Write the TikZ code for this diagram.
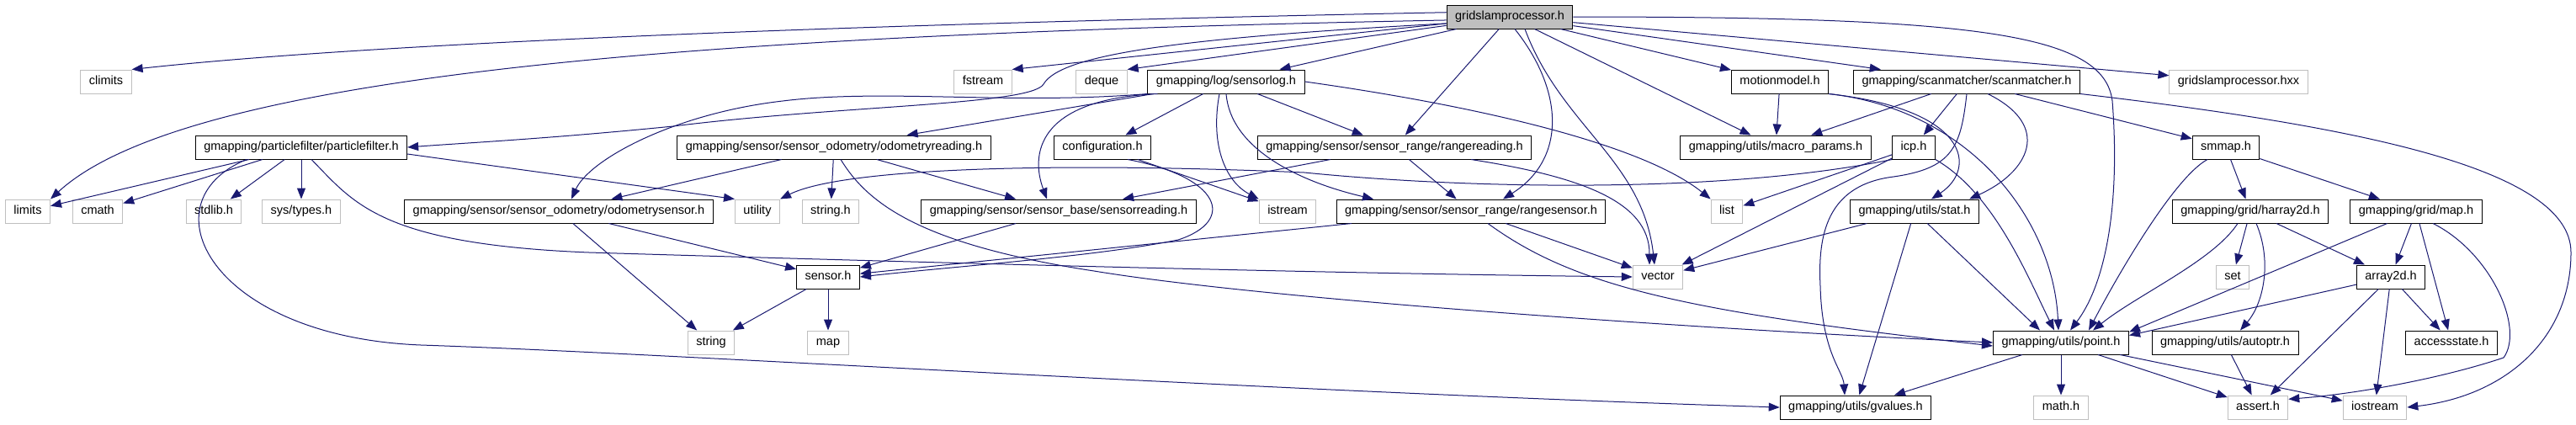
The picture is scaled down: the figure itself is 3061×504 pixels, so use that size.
\documentclass[tikz,border=0pt]{standalone}
\usepackage{fontspec}
\setmainfont{Liberation Sans}
\usetikzlibrary{arrows.meta}
\definecolor{edgeblue}{HTML}{191970}
\definecolor{boxgray}{HTML}{BFBFBF}
\tikzset{
  hdr/.style={draw=black, line width=1pt, fill=white, inner xsep=10pt, inner ysep=0pt,
    minimum height=28pt, text height=11pt, text depth=3.5pt, font=\fontsize{14.5}{17}\selectfont},
  syshdr/.style={hdr, draw=boxgray},
  roothdr/.style={hdr, fill=boxgray},
  dep/.style={draw=edgeblue, line width=1pt, -{Triangle[length=13pt, width=10pt]}}
}
\begin{document}
\begin{tikzpicture}[x=1pt, y=-1pt]
  \useasboundingbox (0,0) rectangle (3061,504);

  \node[roothdr] (root) at (1794,20) {gridslamprocessor.h};

  \node[syshdr] (climits) at (126,97) {climits};
  \node[syshdr] (fstream) at (1168,97) {fstream};
  \node[syshdr] (deque) at (1309,97) {deque};
  \node[hdr] (sensorlog) at (1457,97) {gmapping/log/sensorlog.h};
  \node[hdr] (motionmodel) at (2115,97) {motionmodel.h};
  \node[hdr] (scanmatcher) at (2337,97) {gmapping/scanmatcher/scanmatcher.h};
  \node[syshdr] (gsphxx) at (2660,97) {gridslamprocessor.hxx};

  \node[hdr] (particlefilter) at (358,175) {gmapping/particlefilter/particlefilter.h};
  \node[hdr] (odomreading) at (991,175) {gmapping/sensor/sensor\_odometry/odometryreading.h};
  \node[hdr] (configuration) at (1310,175) {configuration.h};
  \node[hdr] (rangereading) at (1657,175) {gmapping/sensor/sensor\_range/rangereading.h};
  \node[hdr] (macroparams) at (2110,175) {gmapping/utils/macro\_params.h};
  \node[hdr] (icp) at (2274,175) {icp.h};
  \node[hdr] (smmap) at (2645,175) {smmap.h};

  \node[syshdr] (limits) at (33,251) {limits};
  \node[syshdr] (cmath) at (116,251) {cmath};
  \node[syshdr] (stdlib) at (254,251) {stdlib.h};
  \node[syshdr] (systypes) at (358,251) {sys/types.h};
  \node[hdr] (odomsensor) at (664,251) {gmapping/sensor/sensor\_odometry/odometrysensor.h};
  \node[syshdr] (utility) at (900,251) {utility};
  \node[syshdr] (stringh) at (987,251) {string.h};
  \node[hdr] (sensorreading) at (1258,251) {gmapping/sensor/sensor\_base/sensorreading.h};
  \node[syshdr] (istream) at (1530,251) {istream};
  \node[hdr] (rangesensor) at (1748,251) {gmapping/sensor/sensor\_range/rangesensor.h};
  \node[syshdr] (list) at (2052,251) {list};
  \node[hdr] (stat) at (2275,251) {gmapping/utils/stat.h};
  \node[hdr] (harray) at (2674,251) {gmapping/grid/harray2d.h};
  \node[hdr] (gridmap) at (2871,251) {gmapping/grid/map.h};

  \node[hdr] (sensor) at (984,329) {sensor.h};
  \node[syshdr] (vector) at (1970,329) {vector};
  \node[syshdr] (set) at (2653,329) {set};
  \node[hdr] (array) at (2841,329) {array2d.h};

  \node[syshdr] (string) at (845,407) {string};
  \node[syshdr] (map) at (984,407) {map};
  \node[hdr] (point) at (2449,407) {gmapping/utils/point.h};
  \node[hdr] (autoptr) at (2644,407) {gmapping/utils/autoptr.h};
  \node[hdr] (accessstate) at (2913,407) {accessstate.h};

  \node[hdr] (gvalues) at (2205,484) {gmapping/utils/gvalues.h};
  \node[syshdr] (mathh) at (2449,484) {math.h};
  \node[syshdr] (asserth) at (2683,484) {assert.h};
  \node[syshdr] (iostream) at (2822,484) {iostream};

  \draw[dep] (root.176) .. controls (1200,25) and (500,45) .. (climits.north east);
  \draw[dep] (root.183) .. controls (900,40) and (230,80) .. (limits.north east);
  \draw[dep] (root) -- (fstream.north east);
  \draw[dep] (root) -- (deque.north east);
  \draw[dep] (root) -- (sensorlog);
  \draw[dep] (root.186) .. controls (1400,45) and (1260,65) .. (1240,100)
        .. controls (1225,125) and (1000,125) .. (800,150)
        .. controls (650,165) and (550,170) .. (particlefilter.east);
  \draw[dep] (root) -- (rangereading);
  \draw[dep] ([xshift=6pt]root.south) .. controls (1860,110) and (1860,190) .. ([xshift=38pt]rangesensor.north);
  \draw[dep] ([xshift=18pt]root.south) .. controls (1855,150) and (1952,190) .. ([xshift=-4pt]vector.north);
  \draw[dep] (root) -- (macroparams);
  \draw[dep] (root) -- (motionmodel);
  \draw[dep] (root) -- (scanmatcher);
  \draw[dep] (root) -- (gsphxx);
  \draw[dep] (root.east) .. controls (2350,20) and (2500,40) .. (2510,120)
        .. controls (2520,250) and (2500,340) .. ([xshift=11pt]point.north);

  \draw[dep] (sensorlog.south west) .. controls (1200,125) and (1050,105) .. (930,120)
        .. controls (800,135) and (700,190) .. ([xshift=15pt]odomsensor.north);
  \draw[dep] (sensorlog) -- (odomreading);
  \draw[dep] (sensorlog) -- (configuration);
  \draw[dep] ([xshift=12pt]sensorlog.south west) .. controls (1230,118) and (1225,185) .. ([xshift=-14pt]sensorreading.north);
  \draw[dep] ([xshift=-8pt]sensorlog.south) .. controls (1438,170) and (1455,215) .. (istream.north west);
  \draw[dep] (sensorlog) -- (rangereading);
  \draw[dep] (sensorlog.south) .. controls (1462,175) and (1540,215) .. ([xshift=-116pt]rangesensor.north);
  \draw[dep] (sensorlog.east) .. controls (1750,125) and (1950,170) .. (list.north west);

  \draw[dep] (particlefilter) -- (limits);
  \draw[dep] (particlefilter) -- (cmath);
  \draw[dep] (particlefilter) -- (stdlib);
  \draw[dep] (particlefilter) -- (systypes);
  \draw[dep] ([yshift=-8pt]particlefilter.east) -- (utility.north west);
  \draw[dep] ([xshift=12pt]particlefilter.south) .. controls (420,240) and (450,290) .. (700,300)
        .. controls (1200,315) and (1600,325) .. (vector.west);
  \draw[dep] ([xshift=-65pt]particlefilter.south) .. controls (170,240) and (250,400) .. (500,410)
        .. controls (800,420) and (1500,465) .. (gvalues.west);

  \draw[dep] (configuration) -- (istream);
  \draw[dep] ([xshift=30pt]configuration.south) .. controls (1450,210) and (1470,262) .. (1400,285)
        .. controls (1300,305) and (1150,315) .. (sensor.east);

  \draw[dep] (odomreading) -- (odomsensor);
  \draw[dep] (odomreading) -- (stringh);
  \draw[dep] (odomreading) -- (sensorreading);
  \draw[dep] ([xshift=8pt]odomreading.south) .. controls (1030,240) and (1090,290) .. (1300,322)
        .. controls (1500,355) and (2000,390) .. (point.west);

  \draw[dep] (odomsensor) -- (sensor);
  \draw[dep] (odomsensor) -- (string);
  \draw[dep] (sensorreading) -- (sensor);

  \draw[dep] (rangereading) -- (sensorreading);
  \draw[dep] (rangereading) -- (rangesensor);
  \draw[dep] ([xshift=91pt]rangereading.south) .. controls (1880,210) and (1960,240) .. ([xshift=-10pt]vector.north);

  \draw[dep] (rangesensor) -- (sensor);
  \draw[dep] (rangesensor) -- (vector);
  \draw[dep] ([xshift=20pt]rangesensor.south) .. controls (1870,340) and (2000,370) .. ([yshift=-4pt]point.west);

  \draw[dep] (icp.south west) .. controls (2050,230) and (1750,225) .. (1550,205)
        .. controls (1250,192) and (1000,200) .. (utility.north east);
  \draw[dep] (icp) -- (list);
  \draw[dep] (icp) -- (vector);
  \draw[dep] (icp.south east) .. controls (2370,230) and (2410,330) .. ([xshift=-8pt]point.north);

  \draw[dep] (motionmodel) -- (macroparams);
  \draw[dep] (motionmodel.south east) .. controls (2340,130) and (2350,200) .. ([xshift=20pt]stat.north);
  \draw[dep] (motionmodel.south east) .. controls (2340,130) and (2440,260) .. ([xshift=-3pt]point.north);

  \draw[dep] (scanmatcher) -- (macroparams);
  \draw[dep] (scanmatcher) -- (icp);
  \draw[dep] ([xshift=25pt]scanmatcher.south) .. controls (2440,150) and (2410,205) .. ([xshift=65pt]stat.north);
  \draw[dep] (scanmatcher.south) .. controls (2330,175) and (2320,200) .. (2250,210)
        .. controls (2170,220) and (2160,280) .. (2163,340)
        .. controls (2165,420) and (2190,440) .. ([xshift=-13pt]gvalues.north);
  \draw[dep] (scanmatcher) -- (smmap);
  \draw[dep] (scanmatcher.south east) .. controls (2800,150) and (3055,200) .. (3055,300)
        .. controls (3055,400) and (2980,470) .. (iostream.east);

  \draw[dep] (smmap) -- (harray);
  \draw[dep] (smmap) -- (gridmap);
  \draw[dep] ([xshift=-22pt]smmap.south) .. controls (2585,210) and (2520,320) .. ([xshift=33pt]point.north);

  \draw[dep] (stat) -- (vector);
  \draw[dep] (stat) -- (gvalues);
  \draw[dep] (stat) -- ([xshift=-25pt]point.north);

  \draw[dep] ([xshift=-15pt]harray.south) .. controls (2630,310) and (2540,350) .. ([xshift=38pt]point.north);
  \draw[dep] (harray) -- (set);
  \draw[dep] ([xshift=7pt]harray.south) .. controls (2700,310) and (2690,360) .. ([xshift=18pt]autoptr.north);
  \draw[dep] (harray) -- (array);

  \draw[dep] (gridmap) -- ([yshift=-2pt]point.north east);
  \draw[dep] (gridmap) -- (array);
  \draw[dep] (gridmap) -- (accessstate);
  \draw[dep] ([xshift=20pt]gridmap.south) .. controls (2960,300) and (3000,390) .. (2975,425)
        .. controls (2900,450) and (2800,468) .. (asserth.15);

  \draw[dep] (array) -- ([yshift=-6pt]point.north east);
  \draw[dep] (array) -- (asserth);
  \draw[dep] (array) -- (iostream);
  \draw[dep] (array) -- (accessstate);

  \draw[dep] (autoptr) -- (asserth);

  \draw[dep] (point) -- (mathh);
  \draw[dep] (point) -- (asserth);
  \draw[dep] (point) -- (iostream);
  \draw[dep] (point) -- (gvalues);

  \draw[dep] (sensor) -- (string);
  \draw[dep] (sensor) -- (map);

\end{tikzpicture}
\end{document}
